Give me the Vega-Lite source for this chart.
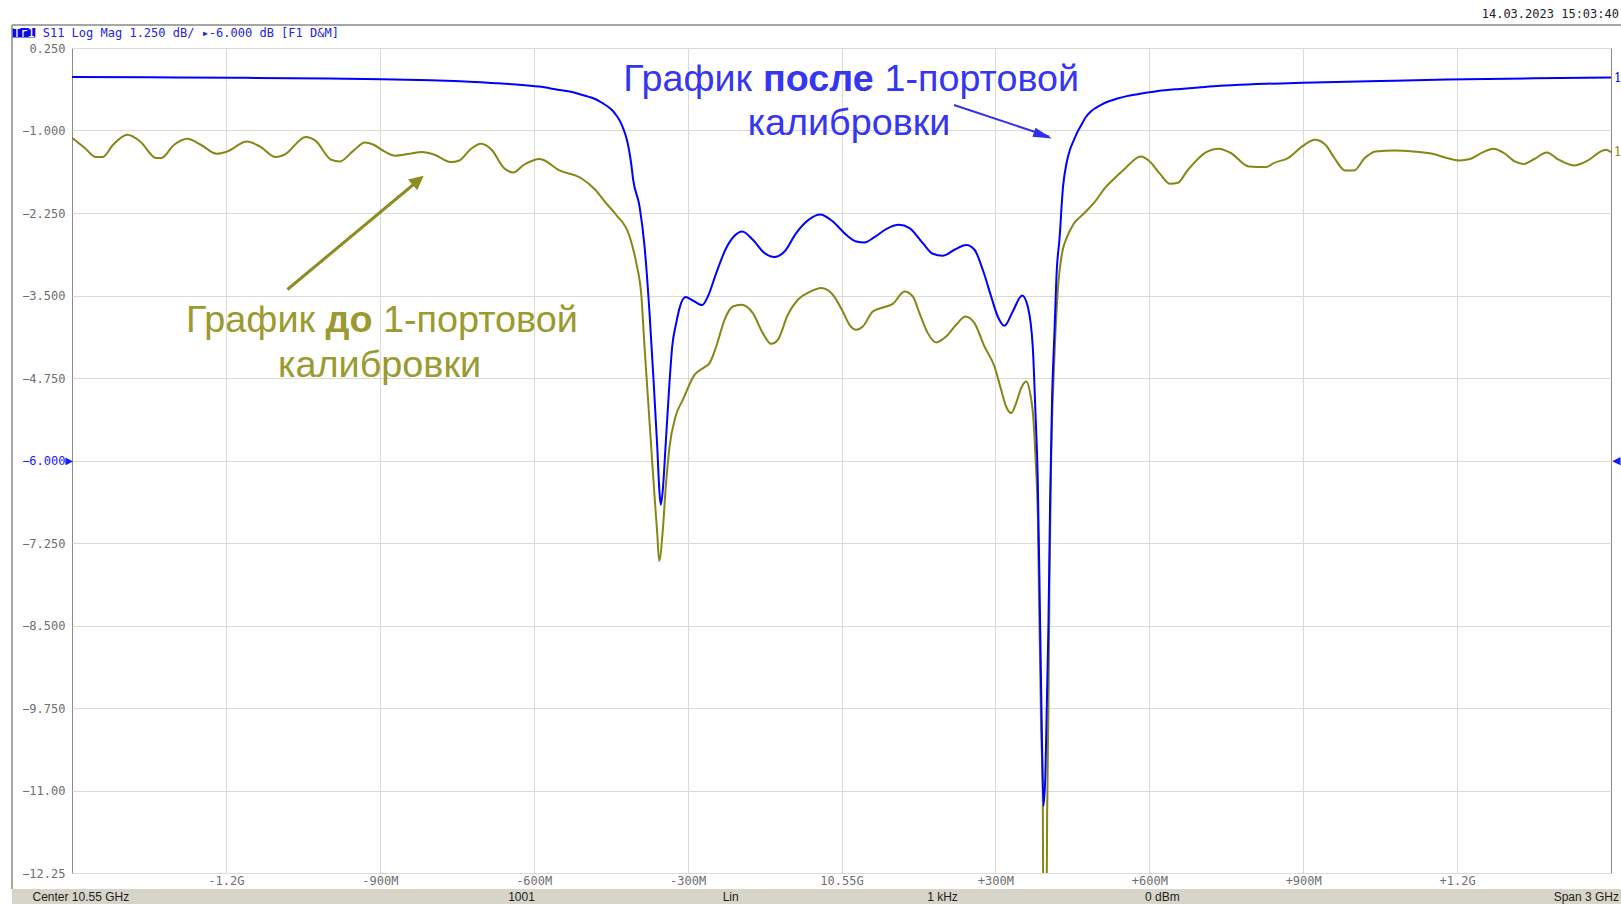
{
  "$schema": "https://vega.github.io/schema/vega-lite/v6.json",
  "width": 1539,
  "height": 825,
  "autosize": {"type": "none"},
  "padding": {"left": 72, "top": 48, "right": 10, "bottom": 31},
  "background": "white",
  "config": {
    "view": {"stroke": "#8a8a8a", "strokeWidth": 1},
    "text": {"font": "DejaVu Sans Mono", "fontSize": 12, "baseline": "middle"}
  },
  "datasets": {
    "before": [
      {"f": -1500, "db": -1.11}, {"f": -1475, "db": -1.266}, {"f": -1454, "db": -1.4}, {"f": -1440, "db": -1.4},
      {"f": -1420, "db": -1.216}, {"f": -1392, "db": -1.064}, {"f": -1367, "db": -1.166}, {"f": -1336, "db": -1.417},
      {"f": -1326, "db": -1.417}, {"f": -1301, "db": -1.216}, {"f": -1275, "db": -1.125}, {"f": -1249, "db": -1.216},
      {"f": -1218, "db": -1.352}, {"f": -1197, "db": -1.317}, {"f": -1159, "db": -1.166}, {"f": -1134, "db": -1.241},
      {"f": -1103, "db": -1.402}, {"f": -1086, "db": -1.367}, {"f": -1044, "db": -1.099}, {"f": -1026, "db": -1.15},
      {"f": -995, "db": -1.443}, {"f": -978, "db": -1.469}, {"f": -953, "db": -1.317}, {"f": -929, "db": -1.181},
      {"f": -912, "db": -1.216}, {"f": -891, "db": -1.317}, {"f": -870, "db": -1.382}, {"f": -842, "db": -1.352},
      {"f": -818, "db": -1.326}, {"f": -793, "db": -1.367}, {"f": -762, "db": -1.478}, {"f": -745, "db": -1.454},
      {"f": -724, "db": -1.291}, {"f": -703, "db": -1.201}, {"f": -682, "db": -1.291}, {"f": -658, "db": -1.569},
      {"f": -640, "db": -1.636}, {"f": -619, "db": -1.519}, {"f": -588, "db": -1.432}, {"f": -550, "db": -1.605},
      {"f": -508, "db": -1.72}, {"f": -480, "db": -1.898}, {"f": -459, "db": -2.099}, {"f": -439, "db": -2.28},
      {"f": -413, "db": -2.606}, {"f": -400, "db": -3.009}, {"f": -390, "db": -3.515}, {"f": -384, "db": -4.273},
      {"f": -377.5, "db": -5.031}, {"f": -371, "db": -5.789}, {"f": -364.4, "db": -6.546}, {"f": -359.2, "db": -7.101},
      {"f": -355.5, "db": -7.52}, {"f": -348.3, "db": -7.051}, {"f": -343, "db": -6.445}, {"f": -335.2, "db": -5.789},
      {"f": -323.5, "db": -5.334}, {"f": -309.3, "db": -5.081}, {"f": -286.5, "db": -4.702}, {"f": -267, "db": -4.585},
      {"f": -257.2, "db": -4.524}, {"f": -244.2, "db": -4.273}, {"f": -228, "db": -3.868}, {"f": -211.8, "db": -3.667},
      {"f": -195.5, "db": -3.641}, {"f": -172.8, "db": -3.767}, {"f": -153.4, "db": -4.07}, {"f": -137, "db": -4.232},
      {"f": -124.1, "db": -4.171}, {"f": -104.7, "db": -3.792}, {"f": -85.2, "db": -3.565}, {"f": -62.4, "db": -3.448},
      {"f": -39.6, "db": -3.388}, {"f": -17, "db": -3.489}, {"f": 2.5, "db": -3.742}, {"f": 15.6, "db": -3.944},
      {"f": 28.6, "db": -4.02}, {"f": 41.5, "db": -3.97}, {"f": 61, "db": -3.742}, {"f": 80.5, "db": -3.682},
      {"f": 100, "db": -3.626}, {"f": 122.8, "db": -3.439}, {"f": 139, "db": -3.515}, {"f": 152, "db": -3.767},
      {"f": 168.2, "db": -4.07}, {"f": 184.6, "db": -4.212}, {"f": 204, "db": -4.121}, {"f": 223.5, "db": -3.944},
      {"f": 241.7, "db": -3.818}, {"f": 259.2, "db": -3.918}, {"f": 278.7, "db": -4.273}, {"f": 298.2, "db": -4.576},
      {"f": 311.2, "db": -4.929}, {"f": 320.9, "db": -5.182}, {"f": 330.7, "db": -5.282}, {"f": 340.4, "db": -5.131},
      {"f": 350.2, "db": -4.903}, {"f": 359.9, "db": -4.803}, {"f": 367.7, "db": -4.979}, {"f": 374.2, "db": -5.384},
      {"f": 378.1, "db": -5.94}, {"f": 382.6, "db": -6.85}, {"f": 385.9, "db": -8.491}, {"f": 389.2, "db": -10.071},
      {"f": 392.3, "db": -11.018}, {"f": 393.5, "db": -13.0}, {"f": 399.5, "db": -13.0}, {"f": 400.9, "db": -11.33},
      {"f": 403.4, "db": -9.754}, {"f": 405.4, "db": -7.859}, {"f": 408.7, "db": -5.964}, {"f": 413.7, "db": -4.702},
      {"f": 421.5, "db": -3.439}, {"f": 431.3, "db": -2.807}, {"f": 438.7, "db": -2.63}, {"f": 452.7, "db": -2.413},
      {"f": 473.6, "db": -2.251}, {"f": 494.4, "db": -2.075}, {"f": 511.8, "db": -1.887}, {"f": 529.3, "db": -1.746},
      {"f": 550.2, "db": -1.595}, {"f": 583.5, "db": -1.393}, {"f": 598.9, "db": -1.454}, {"f": 619.7, "db": -1.645},
      {"f": 640.6, "db": -1.807}, {"f": 654.6, "db": -1.796}, {"f": 675.5, "db": -1.595}, {"f": 710.2, "db": -1.332},
      {"f": 734.5, "db": -1.276}, {"f": 758.9, "db": -1.341}, {"f": 793.8, "db": -1.545}, {"f": 828.5, "db": -1.554},
      {"f": 842.5, "db": -1.493}, {"f": 870.4, "db": -1.417}, {"f": 898.2, "db": -1.241}, {"f": 922.6, "db": -1.14},
      {"f": 943.4, "db": -1.216}, {"f": 960.8, "db": -1.417}, {"f": 981.6, "db": -1.605}, {"f": 999, "db": -1.605},
      {"f": 1020, "db": -1.417}, {"f": 1040.9, "db": -1.317}, {"f": 1079, "db": -1.302}, {"f": 1114, "db": -1.317},
      {"f": 1152.1, "db": -1.352}, {"f": 1180.1, "db": -1.417}, {"f": 1204.4, "db": -1.454}, {"f": 1225.3, "db": -1.432},
      {"f": 1249.6, "db": -1.332}, {"f": 1270.5, "db": -1.276}, {"f": 1291.3, "db": -1.341}, {"f": 1312.3, "db": -1.469},
      {"f": 1329.6, "db": -1.508}, {"f": 1350.5, "db": -1.432}, {"f": 1374.9, "db": -1.332}, {"f": 1395.7, "db": -1.432},
      {"f": 1427.1, "db": -1.529}, {"f": 1451.5, "db": -1.469}, {"f": 1489.6, "db": -1.291}, {"f": 1500, "db": -1.33}
    ],
    "after": [
      {"f": -1500, "db": -0.19}, {"f": -1350, "db": -0.195}, {"f": -1178, "db": -0.201}, {"f": -1000, "db": -0.212},
      {"f": -896, "db": -0.224}, {"f": -800, "db": -0.24}, {"f": -734, "db": -0.256}, {"f": -680, "db": -0.28},
      {"f": -634, "db": -0.303}, {"f": -590, "db": -0.335}, {"f": -553, "db": -0.381}, {"f": -530, "db": -0.41},
      {"f": -510, "db": -0.45}, {"f": -492, "db": -0.49}, {"f": -478, "db": -0.53}, {"f": -465, "db": -0.59},
      {"f": -455, "db": -0.64}, {"f": -446, "db": -0.7}, {"f": -438, "db": -0.78}, {"f": -431, "db": -0.87},
      {"f": -425, "db": -0.98}, {"f": -419, "db": -1.12}, {"f": -414, "db": -1.3}, {"f": -410, "db": -1.5},
      {"f": -406, "db": -1.75}, {"f": -393.7, "db": -2.151}, {"f": -383.9, "db": -2.757}, {"f": -374.2, "db": -3.767},
      {"f": -366.4, "db": -4.778}, {"f": -359.2, "db": -5.789}, {"f": -354.7, "db": -6.495}, {"f": -352.2, "db": -6.672},
      {"f": -348.3, "db": -6.445}, {"f": -343, "db": -5.789}, {"f": -336.6, "db": -4.979}, {"f": -330, "db": -4.273},
      {"f": -322.2, "db": -3.918}, {"f": -315.7, "db": -3.691}, {"f": -304, "db": -3.524}, {"f": -289.8, "db": -3.576},
      {"f": -271.5, "db": -3.645}, {"f": -260.5, "db": -3.515}, {"f": -244.2, "db": -3.16}, {"f": -224.7, "db": -2.781},
      {"f": -208.5, "db": -2.595}, {"f": -193.6, "db": -2.53}, {"f": -172.8, "db": -2.656}, {"f": -150.1, "db": -2.857},
      {"f": -130.6, "db": -2.918}, {"f": -111.1, "db": -2.833}, {"f": -88.4, "db": -2.554}, {"f": -62.4, "db": -2.342},
      {"f": -41.6, "db": -2.272}, {"f": -17, "db": -2.378}, {"f": 9.1, "db": -2.58}, {"f": 28.6, "db": -2.681},
      {"f": 44.8, "db": -2.696}, {"f": 64.3, "db": -2.615}, {"f": 87.1, "db": -2.493}, {"f": 111.7, "db": -2.428},
      {"f": 132.5, "db": -2.478}, {"f": 158.5, "db": -2.706}, {"f": 178, "db": -2.868}, {"f": 197.4, "db": -2.898},
      {"f": 220.2, "db": -2.807}, {"f": 243, "db": -2.736}, {"f": 259.2, "db": -2.807}, {"f": 275.4, "db": -3.11},
      {"f": 291.7, "db": -3.515}, {"f": 304.6, "db": -3.818}, {"f": 317.6, "db": -3.959}, {"f": 333.8, "db": -3.742},
      {"f": 352.2, "db": -3.5}, {"f": 363.1, "db": -3.667}, {"f": 372.8, "db": -4.273}, {"f": 378.1, "db": -5.282},
      {"f": 382.6, "db": -6.293}, {"f": 387.2, "db": -8.491}, {"f": 390.4, "db": -10.067}, {"f": 393.7, "db": -11.234},
      {"f": 397.6, "db": -10.7}, {"f": 400.1, "db": -9.749}, {"f": 403.4, "db": -8.491}, {"f": 406.7, "db": -6.596},
      {"f": 410.6, "db": -5.017}, {"f": 415.1, "db": -4.065}, {"f": 419.6, "db": -3.122}, {"f": 424.8, "db": -2.656},
      {"f": 431.9, "db": -1.848}, {"f": 438.7, "db": -1.493}, {"f": 445, "db": -1.3}, {"f": 452.7, "db": -1.15},
      {"f": 460, "db": -1.02}, {"f": 468, "db": -0.91}, {"f": 476, "db": -0.8}, {"f": 485, "db": -0.72},
      {"f": 495, "db": -0.66}, {"f": 506, "db": -0.61}, {"f": 520, "db": -0.56}, {"f": 536, "db": -0.52},
      {"f": 556, "db": -0.479}, {"f": 585, "db": -0.44}, {"f": 617, "db": -0.402}, {"f": 660, "db": -0.37},
      {"f": 700, "db": -0.345}, {"f": 738, "db": -0.323}, {"f": 800, "db": -0.3}, {"f": 899, "db": -0.276},
      {"f": 1050, "db": -0.25}, {"f": 1181, "db": -0.229}, {"f": 1350, "db": -0.21}, {"f": 1500, "db": -0.197}
    ]
  },
  "layer": [
    {
      "data": {"name": "before"},
      "mark": {"type": "line", "color": "#868614", "strokeWidth": 2, "interpolate": "monotone", "clip": true},
      "encoding": {
        "x": {
          "field": "f", "type": "quantitative",
          "scale": {"domain": [-1500, 1500], "nice": false, "zero": false},
          "axis": {
            "title": null,
            "values": [-1200, -900, -600, -300, 0, 300, 600, 900, 1200],
            "grid": true, "gridColor": "#dadada", "gridWidth": 1,
            "domain": false, "ticks": false, "tickSize": 0,
            "labelFont": "DejaVu Sans Mono", "labelFontSize": 12, "labelColor": "#6e6e6e",
            "labelPadding": 2, "labelFlush": false, "labelOverlap": false,
            "labelExpr": "datum.value == 0 ? '10.55G' : (datum.value > 0 ? '+' : '-') + (abs(datum.value) >= 1000 ? format(abs(datum.value) / 1000, '.1f') + 'G' : abs(datum.value) + 'M')"
          }
        },
        "y": {
          "field": "db", "type": "quantitative",
          "scale": {"domain": [-12.25, 0.25], "nice": false, "zero": false},
          "axis": {
            "title": null,
            "values": [0.25, -1, -2.25, -3.5, -4.75, -6, -7.25, -8.5, -9.75, -11, -12.25],
            "grid": true, "gridColor": "#dadada", "gridWidth": 1,
            "domain": false, "ticks": false, "tickSize": 0,
            "labelFont": "DejaVu Sans Mono", "labelFontSize": 12,
            "labelColor": {"condition": {"test": "datum.value == -6", "value": "#1a1aff"}, "value": "#6e6e6e"},
            "labelPadding": 7, "labelFlush": false, "labelOverlap": false,
            "labelExpr": "datum.value <= -10 ? format(datum.value, '.2f') : format(datum.value, '.3f')"
          }
        }
      }
    },
    {
      "data": {"name": "after"},
      "mark": {"type": "line", "color": "#0000ff", "strokeWidth": 2, "interpolate": "monotone", "clip": true},
      "encoding": {
        "x": {"field": "f", "type": "quantitative"},
        "y": {"field": "db", "type": "quantitative"}
      }
    },
    {
      "data": {"name": "before"},
      "transform": [{"filter": "datum.f == 1500"}],
      "mark": {"type": "text", "text": "1", "align": "left", "dx": 3, "color": "#868614", "font": "DejaVu Serif", "fontSize": 12},
      "encoding": {"x": {"field": "f", "type": "quantitative"}, "y": {"field": "db", "type": "quantitative"}}
    },
    {
      "data": {"name": "after"},
      "transform": [{"filter": "datum.f == 1500"}],
      "mark": {"type": "text", "text": "1", "align": "left", "dx": 3, "color": "#0000ff", "font": "DejaVu Serif", "fontSize": 12},
      "encoding": {"x": {"field": "f", "type": "quantitative"}, "y": {"field": "db", "type": "quantitative"}}
    },
    {
      "data": {"values": [{"f": -1500, "db": -6}]},
      "mark": {"type": "text", "text": "▶", "align": "right", "dx": 1, "color": "#1a1aff", "font": "DejaVu Sans", "fontSize": 10},
      "encoding": {"x": {"field": "f", "type": "quantitative"}, "y": {"field": "db", "type": "quantitative"}}
    },
    {
      "data": {"values": [{"f": 1500, "db": -6}]},
      "mark": {"type": "text", "text": "◀", "align": "left", "dx": 1, "color": "#1a1aff", "font": "DejaVu Sans", "fontSize": 11},
      "encoding": {"x": {"field": "f", "type": "quantitative"}, "y": {"field": "db", "type": "quantitative"}}
    },
    {
      "data": {"values": [{"f1": 219.3, "d1": -0.614, "f2": 405.0, "d2": -1.093}]},
      "mark": {"type": "rule", "color": "#3030f0", "strokeWidth": 2},
      "encoding": {
        "x": {"field": "f1", "type": "quantitative"}, "y": {"field": "d1", "type": "quantitative"},
        "x2": {"field": "f2"}, "y2": {"field": "d2"}
      }
    },
    {
      "data": {"values": [{"f": 410.3, "db": -1.121}]},
      "mark": {"type": "point", "shape": "M0,0L-2,-0.5L-2,0.5Z", "filled": true, "opacity": 1, "size": 361, "angle": 18.9, "color": "#3030f0"},
      "encoding": {"x": {"field": "f", "type": "quantitative"}, "y": {"field": "db", "type": "quantitative"}}
    },
    {
      "data": {"values": [{"f1": -1080.1, "d1": -3.409, "f2": -823.8, "d2": -1.75}]},
      "mark": {"type": "rule", "color": "#8c8c22", "strokeWidth": 3},
      "encoding": {
        "x": {"field": "f1", "type": "quantitative"}, "y": {"field": "d1", "type": "quantitative"},
        "x2": {"field": "f2"}, "y2": {"field": "d2"}
      }
    },
    {
      "data": {"values": [{"f": -814.6, "db": -1.685}]},
      "mark": {"type": "point", "shape": "M0,0L-2,-1L-2,1Z", "filled": true, "opacity": 1, "size": 204, "angle": 320.1, "color": "#8c8c22"},
      "encoding": {"x": {"field": "f", "type": "quantitative"}, "y": {"field": "db", "type": "quantitative"}}
    },
    {
      "data": {"values": [{"f": 14.6, "db": -0.242, "t": "График"}]},
      "mark": {"type": "text", "align": "right", "dx": -97, "font": "Liberation Sans", "fontSize": 37.7, "color": "#3535f2"},
      "encoding": {"x": {"field": "f", "type": "quantitative"}, "y": {"field": "db", "type": "quantitative"}, "text": {"field": "t"}}
    },
    {
      "data": {"values": [{"f": 14.6, "db": -0.242, "t": "после"}]},
      "mark": {"type": "text", "align": "center", "dx": -30.6, "font": "Liberation Sans", "fontWeight": "bold", "fontSize": 37.7, "color": "#3535f2"},
      "encoding": {"x": {"field": "f", "type": "quantitative"}, "y": {"field": "db", "type": "quantitative"}, "text": {"field": "t"}}
    },
    {
      "data": {"values": [{"f": 14.6, "db": -0.242, "t": "1-портовой"}]},
      "mark": {"type": "text", "align": "left", "dx": 35.6, "font": "Liberation Sans", "fontSize": 37.7, "color": "#3535f2"},
      "encoding": {"x": {"field": "f", "type": "quantitative"}, "y": {"field": "db", "type": "quantitative"}, "text": {"field": "t"}}
    },
    {
      "data": {"values": [{"f": 14.6, "db": -0.901, "t": "калибровки"}]},
      "mark": {"type": "text", "align": "center", "font": "Liberation Sans", "fontSize": 37.7, "color": "#3535f2"},
      "encoding": {"x": {"field": "f", "type": "quantitative"}, "y": {"field": "db", "type": "quantitative"}, "text": {"field": "t"}}
    },
    {
      "data": {"values": [{"f": -900.4, "db": -3.879, "t": "График"}]},
      "mark": {"type": "text", "align": "right", "dx": -64.5, "font": "Liberation Sans", "fontSize": 37.8, "color": "#9a9a2e"},
      "encoding": {"x": {"field": "f", "type": "quantitative"}, "y": {"field": "db", "type": "quantitative"}, "text": {"field": "t"}}
    },
    {
      "data": {"values": [{"f": -900.4, "db": -3.879, "t": "до"}]},
      "mark": {"type": "text", "align": "center", "dx": -30.6, "font": "Liberation Sans", "fontWeight": "bold", "fontSize": 37.8, "color": "#9a9a2e"},
      "encoding": {"x": {"field": "f", "type": "quantitative"}, "y": {"field": "db", "type": "quantitative"}, "text": {"field": "t"}}
    },
    {
      "data": {"values": [{"f": -900.4, "db": -3.879, "t": "1-портовой"}]},
      "mark": {"type": "text", "align": "left", "dx": 3.3, "font": "Liberation Sans", "fontSize": 37.8, "color": "#9a9a2e"},
      "encoding": {"x": {"field": "f", "type": "quantitative"}, "y": {"field": "db", "type": "quantitative"}, "text": {"field": "t"}}
    },
    {
      "data": {"values": [{"f": -900.4, "db": -4.566, "t": "калибровки"}]},
      "mark": {"type": "text", "align": "center", "font": "Liberation Sans", "fontSize": 37.8, "color": "#9a9a2e"},
      "encoding": {"x": {"field": "f", "type": "quantitative"}, "y": {"field": "db", "type": "quantitative"}, "text": {"field": "t"}}
    },
    {
      "data": {"values": [{}]},
      "mark": {"type": "rule", "color": "#a6a6a6", "strokeWidth": 2},
      "encoding": {"x": {"datum": -1617}, "x2": {"datum": 1530}, "y": {"datum": 0.5985}}
    },
    {
      "data": {"values": [{}]},
      "mark": {"type": "rect", "color": "#d7d4ca"},
      "encoding": {"x": {"datum": -1617}, "x2": {"datum": 1530}, "y": {"datum": -12.4924}, "y2": {"datum": -12.75}}
    },
    {
      "data": {"values": [{}]},
      "mark": {"type": "rule", "color": "#a8a59c", "strokeWidth": 2},
      "encoding": {"x": {"datum": -1617}, "y": {"datum": 0.5985}, "y2": {"datum": -12.4924}}
    },
    {
      "data": {"values": [{}]},
      "mark": {"type": "rect", "color": "#0a0adc"},
      "encoding": {"x": {"datum": -1615.6}, "x2": {"datum": -1571.5}, "y": {"datum": 0.553}, "y2": {"datum": 0.409}}
    },
    {
      "data": {"values": [{"t": "Tr1"}]},
      "mark": {"type": "text", "align": "center", "color": "white"},
      "encoding": {"x": {"datum": -1593.6}, "y": {"datum": 0.477}, "text": {"field": "t"}}
    },
    {
      "data": {"values": [{"t": "S11 Log Mag 1.250 dB/ ▸-6.000 dB [F1 D&M]"}]},
      "mark": {"type": "text", "align": "left", "color": "#2424e0"},
      "encoding": {"x": {"datum": -1557.1}, "y": {"datum": 0.477}, "text": {"field": "t"}}
    },
    {
      "data": {"values": [{"t": "14.03.2023 15:03:40"}]},
      "mark": {"type": "text", "align": "right", "color": "#222222"},
      "encoding": {"x": {"datum": 1515.6}, "y": {"datum": 0.765}, "text": {"field": "t"}}
    },
    {
      "data": {"values": [{"t": "Center 10.55 GHz"}]},
      "mark": {"type": "text", "align": "left", "color": "#1e1e1e", "font": "Liberation Sans", "fontSize": 12},
      "encoding": {"x": {"datum": -1577.0}, "y": {"datum": -12.6136}, "text": {"field": "t"}}
    },
    {
      "data": {"values": [{"t": "1001", "p": -623.8}, {"t": "Lin", "p": -216.0}, {"t": "1 kHz", "p": 196.9}, {"t": "0 dBm", "p": 625.5}]},
      "mark": {"type": "text", "align": "center", "color": "#1e1e1e", "font": "Liberation Sans", "fontSize": 12},
      "encoding": {"x": {"field": "p", "type": "quantitative"}, "y": {"datum": -12.6136}, "text": {"field": "t"}}
    },
    {
      "data": {"values": [{"t": "Span 3 GHz"}]},
      "mark": {"type": "text", "align": "right", "color": "#1e1e1e", "font": "Liberation Sans", "fontSize": 12},
      "encoding": {"x": {"datum": 1515.6}, "y": {"datum": -12.6136}, "text": {"field": "t"}}
    }
  ]
}
